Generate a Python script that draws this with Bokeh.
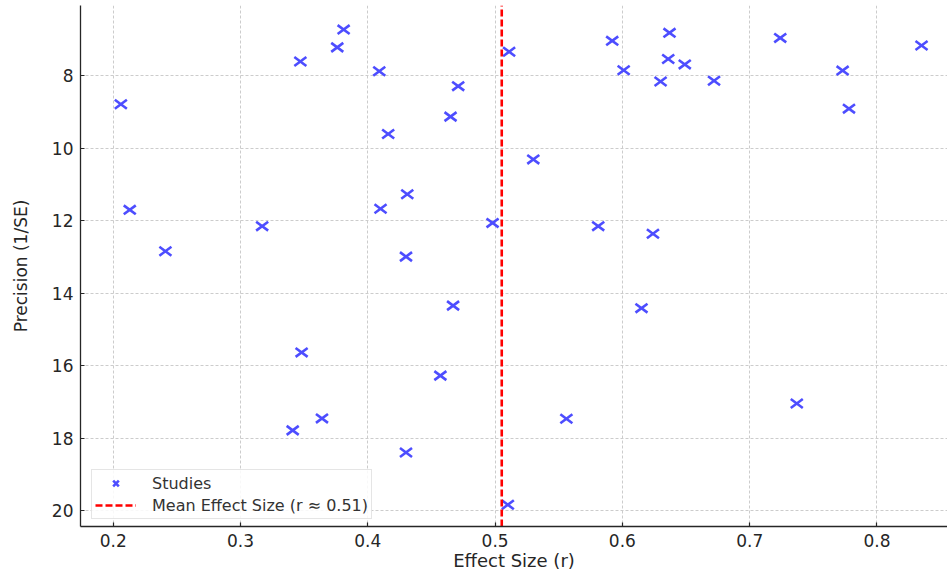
import numpy as np
from bokeh.plotting import figure
from bokeh.models import Range1d, FixedTicker, Legend, LegendItem, ColumnDataSource
from bokeh.embed import file_html
from bokeh.resources import INLINE

# Effect sizes (r) and precision (1/SE) of the studies
effect_size = [0.206, 0.213, 0.241, 0.317, 0.347, 0.376, 0.381, 0.409, 0.416, 0.410,
               0.431, 0.430, 0.465, 0.471, 0.467, 0.348, 0.457, 0.364, 0.341, 0.430,
               0.511, 0.592, 0.637, 0.636, 0.649, 0.601, 0.630, 0.672, 0.724, 0.773,
               0.778, 0.835, 0.530, 0.498, 0.581, 0.624, 0.615, 0.556, 0.737, 0.510]
precision = [8.79, 11.70, 12.84, 12.15, 7.61, 7.22, 6.73, 7.88, 9.61, 11.67,
             11.27, 12.99, 9.13, 8.29, 14.34, 15.63, 16.27, 17.45, 17.78, 18.39,
             7.34, 7.04, 6.82, 7.54, 7.69, 7.85, 8.16, 8.14, 6.96, 7.86,
             8.91, 7.17, 10.31, 12.06, 12.15, 12.36, 14.41, 17.46, 17.04, 19.83]

x_ticks = [0.2, 0.3, 0.4, 0.5, 0.6, 0.7, 0.8]
x_tick_labels = ["0.2", "0.3", "0.4", "0.5", "0.6", "0.7", "0.8"]
y_ticks = [8, 10, 12, 14, 16, 18, 20]
y_tick_labels = ["8", "10", "12", "14", "16", "18", "20"]

mean_r = float(np.mean(effect_size))

FONT = "DejaVu Sans"
DARK = "#262626"

y_range = Range1d(20.43, 6.066)
p = figure(width=947, height=573, output_backend="svg", toolbar_location=None,
           x_range=Range1d(0.1743, 0.8554), y_range=y_range,
           min_border_left=80, min_border_right=0, min_border_top=5, min_border_bottom=45)
p.outline_line_color = None
p.background_fill_color = "white"
p.border_fill_color = "white"

src = ColumnDataSource(dict(x=effect_size, y=precision))
mk = "#4d4dff"
r1 = p.scatter("x", "y", source=src, marker="dash", size=15, angle=0.64,
               line_color=mk, line_width=2.6)
r2 = p.scatter("x", "y", source=src, marker="dash", size=15, angle=-0.64,
               line_color=mk, line_width=2.6)
# hidden renderer used only for the legend swatch
r_leg = p.scatter("x", "y", source=src, marker="x", line_color=mk, line_width=2.6,
                  visible=False)

rl = p.line(x=[mean_r, mean_r], y=[y_range.start, y_range.end], line_color="red",
            line_width=2.6, line_dash="7 3")

for ax, ticks, labels in ((p.xaxis[0], x_ticks, x_tick_labels), (p.yaxis[0], y_ticks, y_tick_labels)):
    ax.ticker = FixedTicker(ticks=ticks)
    ax.major_label_overrides = {t: l for t, l in zip(ticks, labels)}
    ax.major_tick_in = 4
    ax.major_tick_out = 0
    ax.minor_tick_line_color = None
    ax.axis_line_color = DARK
    ax.axis_line_width = 1.3
    ax.major_tick_line_color = DARK
    ax.major_tick_line_width = 1.2
    ax.major_label_text_font = FONT
    ax.major_label_text_font_size = "17px"
    ax.major_label_text_color = DARK
    ax.axis_label_text_font = FONT
    ax.axis_label_text_font_style = "normal"
    ax.axis_label_text_color = DARK
    ax.major_label_standoff = 7

p.xaxis.axis_label = "Effect Size (r)"
p.xaxis.axis_label_text_font_size = "18px"
p.xaxis.axis_label_standoff = 0
p.yaxis.axis_label = "Precision (1/SE)"
p.yaxis.axis_label_text_font_size = "17px"
p.yaxis.axis_label_standoff = 18

for g in (p.xgrid[0], p.ygrid[0]):
    g.grid_line_color = "#cccccc"
    g.grid_line_dash = "3 2"
    g.grid_line_width = 1

legend = Legend(items=[LegendItem(label="Studies", renderers=[r_leg]),
                       LegendItem(label="Mean Effect Size (r \u2248 0.51)", renderers=[rl])],
                location=(11, 7))
legend.click_policy = "none"
legend.margin = 0
legend.padding = 3
legend.spacing = 2
legend.glyph_width = 41
legend.glyph_height = 20
legend.label_height = 20
legend.label_standoff = 16
legend.label_text_font = FONT
legend.label_text_font_size = "16px"
legend.label_text_color = "#333333"
legend.border_line_color = "#cccccc"
legend.border_line_width = 1.2
legend.background_fill_color = "white"
legend.background_fill_alpha = 0.85
p.add_layout(legend)

open("out.html", "w").write(file_html(p, INLINE))
